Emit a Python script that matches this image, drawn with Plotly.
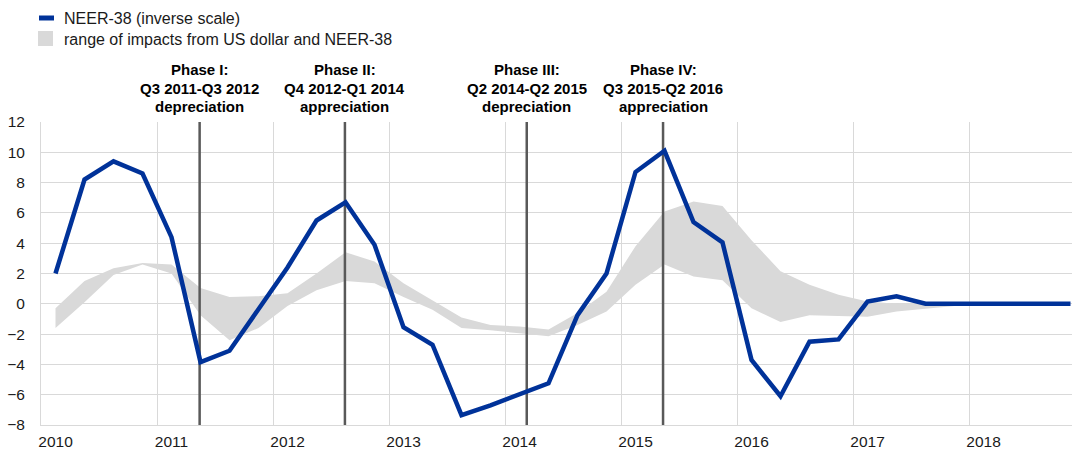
import plotly.graph_objects as go

# ---- data (quarterly, 2010 Q1 - 2018 Q4) ----
quarters = [f"{y} Q{q}" for y in range(2010, 2019) for q in range(1, 5)]
years = ["2010", "2011", "2012", "2013", "2014", "2015", "2016", "2017", "2018"]

neer38 = [2.0, 8.2, 9.4, 8.6, 4.4, -3.85, -3.1, -0.4,
          2.4, 5.5, 6.7, 3.9, -1.55, -2.7, -7.35, -6.7,
          -5.95, -5.25, -0.75, 2.0, 8.7, 10.1, 5.4, 4.05,
          -3.7, -6.1, -2.5, -2.35, 0.15, 0.5, 0.0, 0.0,
          0.0, 0.0, 0.0, 0.0]

band_upper = [-0.3, 1.5, 2.35, 2.7, 2.6, 1.05, 0.45, 0.5,
              0.7, 2.0, 3.4, 2.8, 1.35, 0.25, -0.9, -1.4,
              -1.5, -1.7, -0.6, 0.8, 3.8, 6.1, 6.75, 6.45,
              4.2, 2.15, 1.25, 0.6, 0.15, 0.0, 0.1, 0.05,
              0.0, 0.0, 0.0, 0.0]

band_lower = [-1.6, 0.1, 1.9, 2.6, 2.0, -0.75, -2.4, -1.6,
              -0.15, 0.9, 1.5, 1.35, 0.45, -0.4, -1.6, -1.75,
              -1.95, -2.15, -1.4, -0.5, 1.25, 2.6, 1.8, 1.55,
              -0.3, -1.2, -0.75, -0.8, -0.85, -0.5, -0.3, -0.15,
              -0.1, -0.15, -0.05, 0.0]

# phase marker positions (in quarter index units) and labels
phase_pos = [4.97, 9.98, 16.25, 20.95]
phase_titles = ["Phase I:", "Phase II:", "Phase III:", "Phase IV:"]
phase_periods = ["Q3 2011-Q3 2012", "Q4 2012-Q1 2014", "Q2 2014-Q2 2015", "Q3 2015-Q2 2016"]
phase_kinds = ["depreciation", "appreciation", "depreciation", "appreciation"]

series_names = ["NEER-38 (inverse scale)", "range of impacts from US dollar and NEER-38"]

# ---- styling ----
BLUE = "#003299"
GREY_BAND = "#d9d9d9"
GRID = "#d9d9d9"
PHASE = "#595959"
FONT = "Liberation Sans, Arial, sans-serif"

W, H = 1072, 450
ML, MR, MT, MB = 41, 0, 122, 25
PW, PH = W - ML - MR, H - MT - MB
Y_MIN, Y_MAX = -8, 12
PX_PER_Q = 29.0

x = list(range(len(quarters)))
x_range = [-0.5, -0.5 + PW / PX_PER_Q]


def px2paper_x(px):
    return (px - ML) / PW


def px2paper_y(py):
    return (H - MB - py) / PH


fig = go.Figure()

# band
fig.add_trace(go.Scatter(x=x, y=band_lower, mode="lines", line=dict(width=0, color=GREY_BAND),
                         showlegend=False, hoverinfo="skip"))
fig.add_trace(go.Scatter(x=x, y=band_upper, mode="lines", line=dict(width=0, color=GREY_BAND),
                         fill="tonexty", fillcolor=GREY_BAND, name=series_names[1], showlegend=False))

# phase lines
for p in phase_pos:
    fig.add_trace(go.Scatter(x=[p, p], y=[Y_MIN, Y_MAX], mode="lines",
                             line=dict(color=PHASE, width=2.5), showlegend=False, hoverinfo="skip"))

# NEER line
fig.add_trace(go.Scatter(x=x, y=neer38, mode="lines", line=dict(color=BLUE, width=4.5),
                         name=series_names[0], showlegend=False))

# phase annotations
for p, t, per, k in zip(phase_pos, phase_titles, phase_periods, phase_kinds):
    for txt, py in zip([t, per, k], [70, 88, 106]):
        fig.add_annotation(x=p, xref="x", y=px2paper_y(py), yref="paper", text=f"<b>{txt}</b>",
                           showarrow=False, xanchor="center", yanchor="middle",
                           font=dict(family=FONT, size=15, color="#000000"))

# manual legend
fig.add_shape(type="rect", xref="paper", yref="paper",
              x0=px2paper_x(39), x1=px2paper_x(54), y0=px2paper_y(15.5), y1=px2paper_y(20.5),
              fillcolor=BLUE, line=dict(width=0))
fig.add_shape(type="rect", xref="paper", yref="paper",
              x0=px2paper_x(38), x1=px2paper_x(53), y0=px2paper_y(31), y1=px2paper_y(46),
              fillcolor=GREY_BAND, line=dict(width=0))
for name, py in zip(series_names, [18.5, 39.5]):
    fig.add_annotation(x=px2paper_x(62), xref="paper", y=px2paper_y(py), yref="paper", text=name,
                       showarrow=False, xanchor="left", yanchor="middle",
                       font=dict(family=FONT, size=16, color="#1a1a1a"))

fig.update_layout(
    width=W, height=H,
    margin=dict(l=ML, r=MR, t=MT, b=MB, pad=0, autoexpand=False),
    paper_bgcolor="white", plot_bgcolor="white",
    showlegend=False,
    font=dict(family=FONT, size=15, color="#1a1a1a"),
    xaxis=dict(
        range=x_range, tickmode="array", automargin=False,
        tickvals=[x[i] for i in range(0, len(x), 4)], ticktext=years,
        showgrid=False, zeroline=False, showline=True, linecolor=GRID, linewidth=1,
        ticks="", ticklabelstandoff=2,
        tickfont=dict(family=FONT, size=15.5, color="#1a1a1a"),
        minor=dict(tickmode="array", tickvals=[i - 0.5 for i in range(4, len(x), 4)],
                   showgrid=True, gridcolor=GRID, gridwidth=1, ticks=""),
    ),
    yaxis=dict(
        range=[Y_MIN, Y_MAX], tickmode="linear", tick0=Y_MIN, dtick=2, automargin=False,
        showgrid=True, gridcolor=GRID, gridwidth=1, zeroline=False,
        showline=True, linecolor=GRID, linewidth=1, ticks="", ticklabelstandoff=12,
        tickfont=dict(family=FONT, size=15.5, color="#1a1a1a"),
    ),
)

fig.write_html("out.html", config={"displayModeBar": False},
               post_script="document.body.style.margin='0px';document.body.style.overflow='hidden';")
